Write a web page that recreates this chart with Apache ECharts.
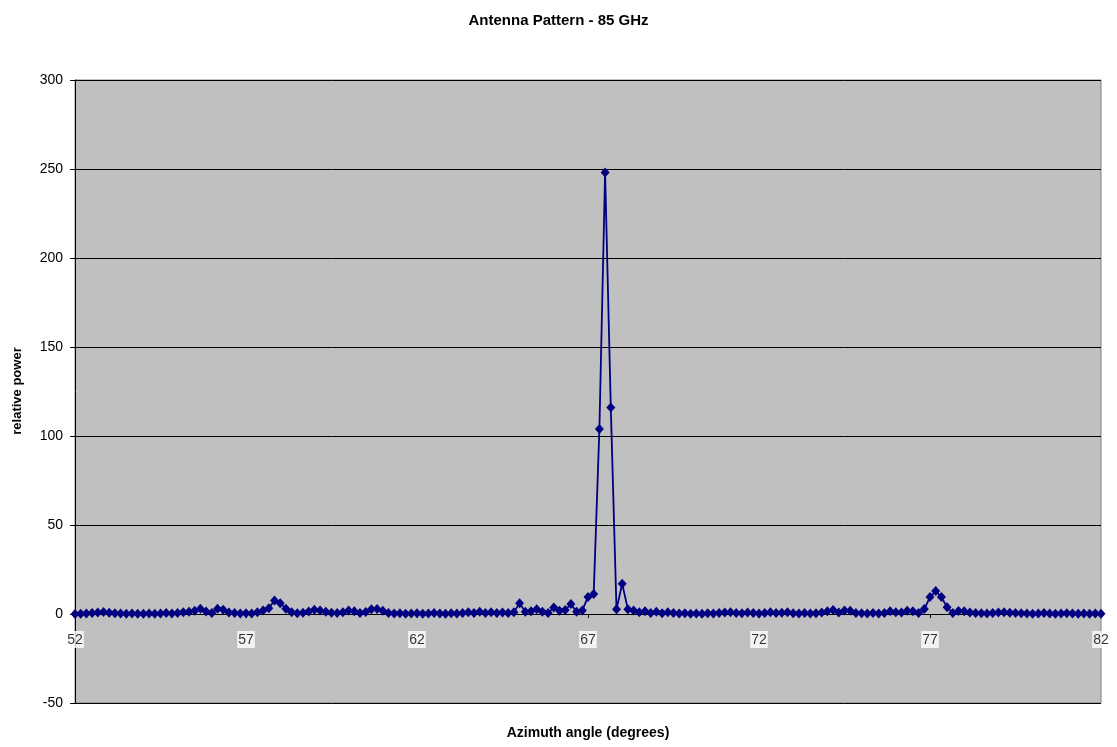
<!DOCTYPE html>
<html>
<head>
<meta charset="utf-8">
<title>Antenna Pattern - 85 GHz</title>
<script src="https://cdn.jsdelivr.net/npm/echarts@6/dist/echarts.min.js"></script>
<style>
  html, body { margin: 0; padding: 0; background: #fff; }
  #chart { width: 1117px; height: 747px; }
</style>
</head>
<body>
<div id="chart"></div>
<script>
// measurement grid: azimuth from 52 deg in steps of 1/6 deg
const ANGLE_START = 52;
const ANGLE_STEP = 1 / 6;

// relative power at each azimuth step
const power = [
  0, 0.2, 0.3, 0.5, 0.8, 1.1, 0.7, 0.4, 0.3, 0.2,
  0.3, 0.2, 0.2, 0.3, 0.2, 0.3, 0.5, 0.3, 0.6, 1.0,
  1.2, 1.8, 3.0, 1.4, 0.5, 3.0, 2.4, 0.8, 0.5, 0.3,
  0.4, 0.3, 1.0, 2.0, 3.3, 7.6, 6.0, 3.0, 1.0, 0.4,
  0.7, 1.4, 2.4, 2.0, 1.2, 0.7, 0.5, 1.0, 2.0, 1.6,
  0.6, 1.1, 2.6, 2.8, 1.8, 0.6, 0.3, 0.4, 0.2, 0.3,
  0.4, 0.2, 0.3, 0.5, 0.3, 0.2, 0.4, 0.3, 0.6, 1.0,
  0.5, 1.2, 0.6, 1.0, 0.5, 0.9, 0.6, 1.0, 6.1, 1.2,
  1.5, 2.6, 1.3, 0.5, 3.7, 1.8, 2.2, 5.6, 1.2, 2.0,
  9.6, 11.2, 104, 248, 116, 2.6, 17, 2.6, 2.0, 1.0,
  1.6, 0.5, 1.2, 0.4, 1.0, 0.5, 0.3, 0.4, 0.2, 0.3,
  0.2, 0.4, 0.3, 0.5, 0.8, 1.0, 0.6, 0.4, 0.8, 0.5,
  0.3, 0.6, 1.0, 0.5, 0.7, 1.0, 0.4, 0.3, 0.5, 0.3,
  0.4, 0.8, 1.6, 2.2, 0.8, 2.0, 1.8, 0.5, 0.4, 0.3,
  0.5, 0.3, 0.6, 1.5, 1.0, 0.8, 1.8, 1.5, 0.5, 2.8,
  9.5, 12.9, 9.5, 3.8, 0.6, 1.7, 1.6, 0.8, 0.5, 0.4,
  0.3, 0.5, 0.8, 1.0, 0.7, 0.5, 0.4, 0.3, 0.2, 0.3,
  0.5, 0.3, 0.2, 0.3, 0.4, 0.3, 0.2, 0.3, 0.2, 0.3,
  0.1
];

const xTicks = [52, 57, 62, 67, 72, 77, 82];
const yTicks = [-50, 0, 50, 100, 150, 200, 250, 300];

const font = "'Liberation Sans', Arial, sans-serif";
const points = power.map((v, i) => [ANGLE_START + i * ANGLE_STEP, v]);
// x tick labels sit just under the zero line, like the Excel original
const tickLabelPoints = xTicks.map(t => [t, 0]);

const chart = echarts.init(document.getElementById('chart'));
chart.setOption({
  animation: false,
  backgroundColor: '#fff',
  title: {
    text: 'Antenna Pattern - 85 GHz',
    left: 'center',
    top: 8,
    textStyle: { fontFamily: font, fontSize: 15, fontWeight: 'bold', color: '#000' }
  },
  grid: {
    left: 75,
    right: 16,
    top: 80,
    height: 623,
    show: true,
    backgroundColor: '#c0c0c0',
    borderColor: '#808080',
    borderWidth: 1
  },
  xAxis: {
    type: 'value',
    min: xTicks[0],
    max: xTicks[xTicks.length - 1],
    interval: 5,
    axisLine: { onZero: true, lineStyle: { color: '#000', width: 1 } },
    axisTick: { show: true, length: 4, lineStyle: { color: '#000' } },
    splitLine: { show: false },
    axisLabel: { show: false }
  },
  yAxis: {
    type: 'value',
    min: yTicks[0],
    max: yTicks[yTicks.length - 1],
    interval: 50,
    axisLine: { show: true, onZero: false, lineStyle: { color: '#000', width: 1 } },
    axisTick: { show: true, length: 5, lineStyle: { color: '#000' } },
    splitLine: { show: true, lineStyle: { color: '#000', width: 1 } },
    axisLabel: { margin: 12, color: '#000', fontFamily: font, fontSize: 14 }
  },
  graphic: [
    {
      type: 'text',
      x: 17,
      y: 391,
      rotation: Math.PI / 2,
      style: {
        text: 'relative power',
        fill: '#000',
        font: 'bold 13px ' + font,
        textAlign: 'center',
        textVerticalAlign: 'middle'
      }
    },
    {
      type: 'text',
      x: 588,
      y: 733,
      style: {
        text: 'Azimuth angle (degrees)',
        fill: '#000',
        font: 'bold 14px ' + font,
        textAlign: 'center',
        textVerticalAlign: 'middle'
      }
    }
  ],
  series: [
    {
      name: 'xTickLabels',
      type: 'scatter',
      data: tickLabelPoints,
      symbolSize: 0,
      silent: true,
      clip: false,
      z: 1,
      label: {
        show: true,
        position: 'bottom',
        distance: 17,
        formatter: p => String(p.value[0]),
        color: '#000',
        fontFamily: font,
        fontSize: 14,
        backgroundColor: '#fff',
        padding: [2, 1, 1, 1]
      }
    },
    {
      name: 'relative power',
      type: 'line',
      data: points,
      symbol: 'diamond',
      symbolSize: [9, 10],
      showAllSymbol: true,
      z: 3,
      lineStyle: { color: '#000080', width: 1.8 },
      itemStyle: { color: '#000080' }
    }
  ]
});
</script>
</body>
</html>
